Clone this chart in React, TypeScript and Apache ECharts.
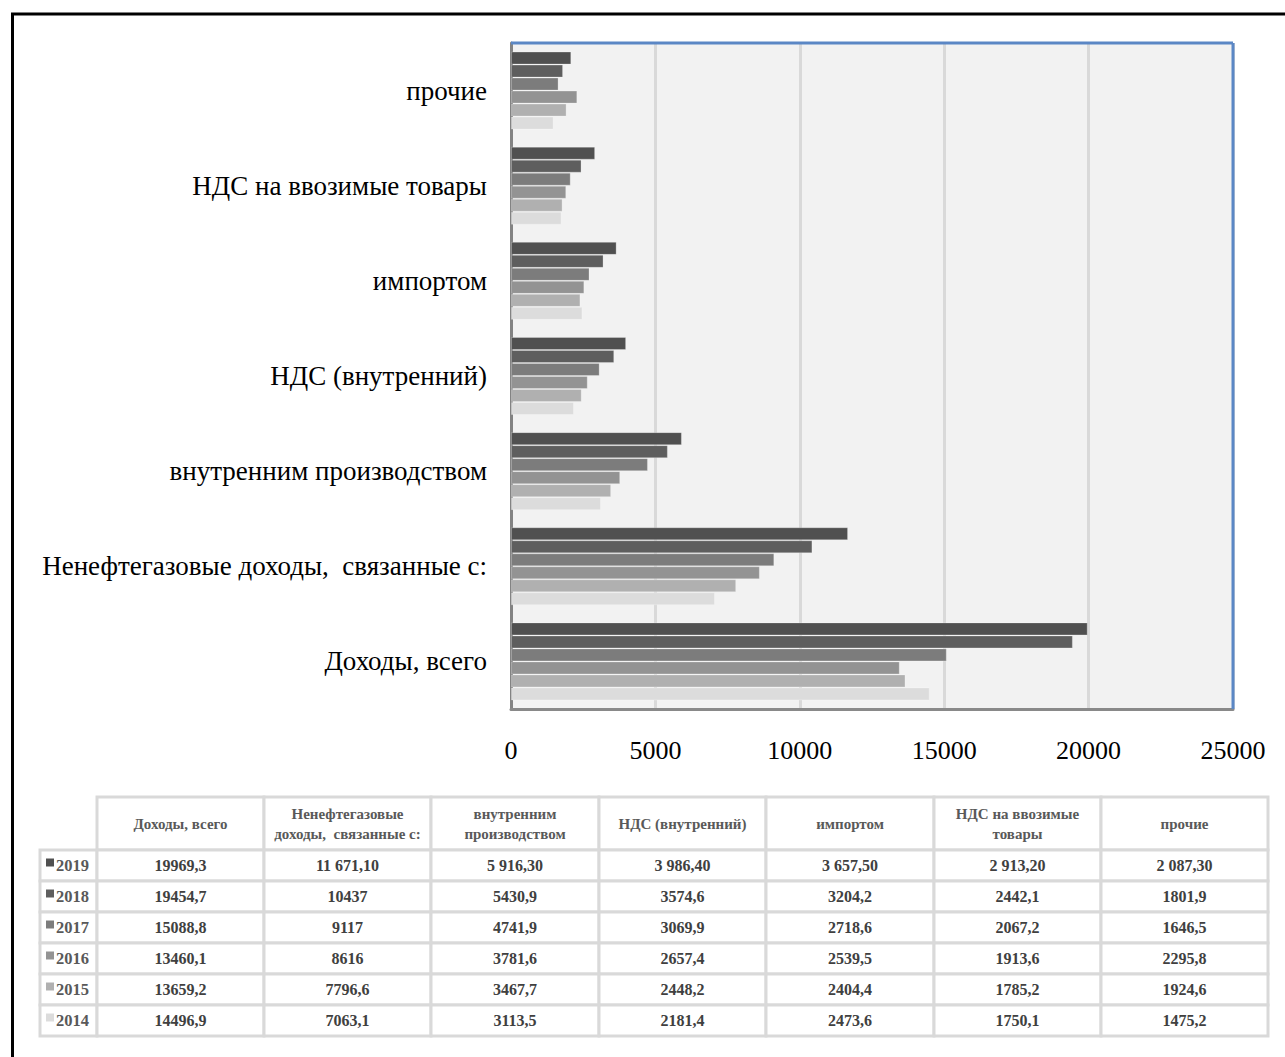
import React, { useEffect, useRef } from "react";
import * as echarts from "echarts";

const categories = [
  "Доходы, всего",
  "Ненефтегазовые доходы,  связанные с:",
  "внутренним производством",
  "НДС (внутренний)",
  "импортом",
  "НДС на ввозимые товары",
  "прочие",
];

const tableHeaders = [
  ["Доходы, всего"],
  ["Ненефтегазовые", "доходы,  связанные с:"],
  ["внутренним", "производством"],
  ["НДС (внутренний)"],
  ["импортом"],
  ["НДС на ввозимые", "товары"],
  ["прочие"],
];

const years = ["2019", "2018", "2017", "2016", "2015", "2014"];
const yearColors = ["#505050", "#5e5e5e", "#7c7c7c", "#939393", "#b0b0b0", "#dcdcdc"];

const v2019 = [19969.3, 11671.1, 5916.3, 3986.4, 3657.5, 2913.2, 2087.3];
const v2018 = [19454.7, 10437, 5430.9, 3574.6, 3204.2, 2442.1, 1801.9];
const v2017 = [15088.8, 9117, 4741.9, 3069.9, 2718.6, 2067.2, 1646.5];
const v2016 = [13460.1, 8616, 3781.6, 2657.4, 2539.5, 1913.6, 2295.8];
const v2015 = [13659.2, 7796.6, 3467.7, 2448.2, 2404.4, 1785.2, 1924.6];
const v2014 = [14496.9, 7063.1, 3113.5, 2181.4, 2473.6, 1750.1, 1475.2];
const yearValues = [v2019, v2018, v2017, v2016, v2015, v2014];

const t2019 = ["19969,3", "11 671,10", "5 916,30", "3 986,40", "3 657,50", "2 913,20", "2 087,30"];
const t2018 = ["19454,7", "10437", "5430,9", "3574,6", "3204,2", "2442,1", "1801,9"];
const t2017 = ["15088,8", "9117", "4741,9", "3069,9", "2718,6", "2067,2", "1646,5"];
const t2016 = ["13460,1", "8616", "3781,6", "2657,4", "2539,5", "1913,6", "2295,8"];
const t2015 = ["13659,2", "7796,6", "3467,7", "2448,2", "2404,4", "1785,2", "1924,6"];
const t2014 = ["14496,9", "7063,1", "3113,5", "2181,4", "2473,6", "1750,1", "1475,2"];
const yearTexts = [t2019, t2018, t2017, t2016, t2015, t2014];

const xTicks = [0, 5000, 10000, 15000, 20000, 25000];

const W = 1285;
const H = 1057;
const SERIF = "'Liberation Serif', 'Times New Roman', serif";

function buildTable(): any[] {
  const els: any[] = [];
  const colX = [97, 264, 431, 599, 766, 934, 1101, 1268];
  const legendX = 40;
  const headTop = 797;
  const headBottom = 850;
  const rowH = 31;
  const border = { stroke: "#d9d9d9", lineWidth: 3 };

  for (let c = 0; c < tableHeaders.length; c++) {
    const x0 = colX[c];
    const x1 = colX[c + 1];
    els.push({
      type: "rect",
      shape: { x: x0, y: headTop, width: x1 - x0, height: headBottom - headTop },
      style: { fill: "#ffffff", ...border },
      z: 10,
    });
    const lines = tableHeaders[c];
    const cy = (headTop + headBottom) / 2;
    lines.forEach((ln, i) => {
      els.push({
        type: "text",
        x: (x0 + x1) / 2,
        y: cy + (i - (lines.length - 1) / 2) * 20,
        style: {
          text: ln,
          font: `bold 15px ${SERIF}`,
          fill: "#595959",
          align: "center",
          verticalAlign: "middle",
        },
        z: 11,
      });
    });
  }

  for (let r = 0; r < years.length; r++) {
    const y0 = headBottom + r * rowH;
    els.push({
      type: "rect",
      shape: { x: legendX, y: y0, width: colX[0] - legendX, height: rowH },
      style: { fill: "#ffffff", ...border },
      z: 10,
    });
    els.push({
      type: "rect",
      shape: { x: legendX + 6, y: y0 + rowH / 2 - 7, width: 8, height: 8 },
      style: { fill: yearColors[r] },
      z: 11,
    });
    els.push({
      type: "text",
      x: legendX + 16,
      y: y0 + rowH / 2,
      style: {
        text: years[r],
        font: `bold 16.5px ${SERIF}`,
        fill: "#595959",
        align: "left",
        verticalAlign: "middle",
      },
      z: 11,
    });
    for (let c = 0; c < tableHeaders.length; c++) {
      const x0 = colX[c];
      const x1 = colX[c + 1];
      els.push({
        type: "rect",
        shape: { x: x0, y: y0, width: x1 - x0, height: rowH },
        style: { fill: "#ffffff", ...border },
        z: 10,
      });
      els.push({
        type: "text",
        x: (x0 + x1) / 2,
        y: y0 + rowH / 2,
        style: {
          text: yearTexts[r][c],
          font: `bold 16px ${SERIF}`,
          fill: "#404040",
          align: "center",
          verticalAlign: "middle",
        },
        z: 11,
      });
    }
  }
  return els;
}

export default function App() {
  const ref = useRef<HTMLDivElement>(null);

  useEffect(() => {
    if (!ref.current) return;
    const chart = echarts.init(ref.current, undefined, { renderer: "svg" });
    const gridLeft = 511;
    const gridTop = 43;
    const gridRight = 1233;
    const gridBottom = 709;

    const series = years.map((y, i) => ({
      name: y,
      type: "bar",
      data: yearValues[i],
      itemStyle: { color: yearColors[i], borderColor: "rgba(255,255,255,0.25)", borderWidth: 1 },
      barGap: "0%",
      barCategoryGap: "18%",
      z: 3,
    }));

    chart.setOption({
      animation: false,
      backgroundColor: "#ffffff",
      grid: {
        left: gridLeft,
        top: gridTop,
        width: gridRight - gridLeft,
        height: gridBottom - gridTop,
        containLabel: false,
        show: true,
        backgroundColor: "#f2f2f2",
        borderWidth: 0,
      },
      xAxis: {
        type: "value",
        min: 0,
        max: 25000,
        interval: 5000,
        axisLine: { show: true, lineStyle: { color: "#898989", width: 3 } },
        axisTick: { show: false },
        splitLine: { show: true, lineStyle: { color: "#d9d9d9", width: 3 } },
        axisLabel: {
          color: "#000000",
          fontFamily: SERIF,
          fontSize: 26,
          margin: 28,
          formatter: (v: number) => (xTicks.includes(v) ? String(v) : ""),
        },
      },
      yAxis: {
        type: "category",
        data: categories,
        axisLine: { show: true, onZero: false, lineStyle: { color: "#838383", width: 3 } },
        axisTick: { show: false },
        splitLine: { show: false },
        axisLabel: {
          color: "#000000",
          fontFamily: SERIF,
          fontSize: 27,
          margin: 24,
        },
      },
      series,
      graphic: [
        {
          type: "line",
          shape: { x1: gridLeft, y1: gridTop, x2: gridRight, y2: gridTop },
          style: { stroke: "#5b87c5", lineWidth: 3 },
          z: 20,
        },
        {
          type: "line",
          shape: { x1: gridRight, y1: gridTop, x2: gridRight, y2: gridBottom },
          style: { stroke: "#5b87c5", lineWidth: 3 },
          z: 20,
        },
        {
          type: "rect",
          shape: { x: 12.5, y: 14, width: W + 20, height: H + 20 },
          style: { fill: "none", stroke: "#000000", lineWidth: 3 },
          z: 30,
        },
        ...buildTable(),
      ],
    });
    return () => chart.dispose();
  }, []);

  return (
    <div
      ref={ref}
      style={{ position: "fixed", left: 0, top: 0, width: W, height: H, background: "#fff" }}
    />
  );
}
